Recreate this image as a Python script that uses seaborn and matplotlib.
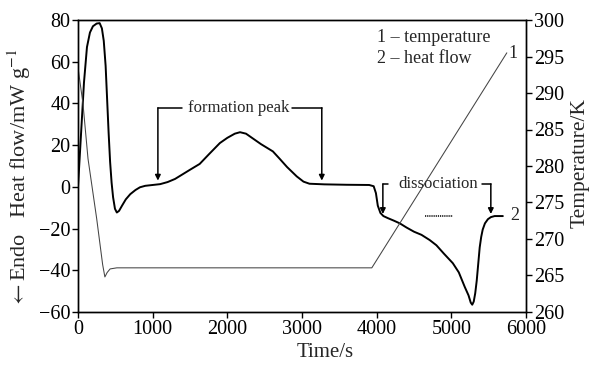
import numpy as np
import pandas as pd
import matplotlib
matplotlib.use("Agg")
import matplotlib.pyplot as plt
import seaborn as sns

# ---- data ----
hf_time = [0, 40, 80, 120, 160, 200, 250, 290, 320, 345, 370, 390, 410, 430, 450, 470,
           495, 520, 550, 590, 640, 700, 770, 830, 900, 1000, 1100, 1200, 1300, 1400,
           1500, 1630, 1750, 1900, 2000, 2100, 2170, 2250, 2350, 2450, 2610, 2700, 2800,
           2930, 3020, 3100, 3300, 3600, 3900, 3960, 3990, 4015, 4050, 4090, 4150, 4230,
           4310, 4400, 4500, 4600, 4710, 4800, 4900, 5020, 5100, 5180, 5230, 5260, 5280,
           5300, 5320, 5340, 5360, 5380, 5400, 5420, 5450, 5490, 5530, 5580, 5690]
hf_value = [0, 25, 50, 67, 74, 77, 78.3, 78.5, 76, 70, 58, 42, 26, 12, 2, -5,
            -10.5, -12.3, -11.5, -9, -6, -3.5, -1.5, -0.2, 0.5, 0.9, 1.3, 2.3, 3.8, 6,
            8.2, 11, 15.5, 21, 23.5, 25.5, 26.2, 25.5, 23, 20.5, 17, 13.5, 9.5,
            5, 2.5, 1.5, 1.2, 1.0, 0.9, 0.3, -3, -9, -12.5, -14, -15, -16.2,
            -17.5, -19.5, -21.5, -23, -25.5, -28, -32, -36.6, -41, -48, -52, -55.5, -56.5,
            -55, -51, -45, -37, -29, -24, -20.5, -17.5, -15.5, -14.5, -14, -14]

temp_time = [0, 67, 134, 250, 330, 360, 390, 430, 520, 3935, 5743]
temp_value = [293.5, 288.5, 281, 272.8, 266.5, 264.8, 265.4, 265.9, 266.05, 266.05, 295.5]

x_ticks = [0, 1000, 2000, 3000, 4000, 5000, 6000]
hf_ticks = [-60, -40, -20, 0, 20, 40, 60, 80]
temp_ticks = [260, 265, 270, 275, 280, 285, 290, 295, 300]

# annotation anchors (data coordinates)
form_left = (1070, 1390)     # arrow x, end of horizontal
form_right = (3265, 2865)
form_text = (2155, 37.9)
form_top, form_tip = 37.9, 3.0
diss_left = (4083, 4150)
diss_right = (5529, 5410)
diss_text = (4820, 1.4)
diss_top, diss_tip = 1.4, -13.0
dotted_x = [4645, 5020]
dotted_y = [-14, -14]

sns.set_style("ticks")
plt.rcParams['font.family'] = ['Liberation Serif', 'DejaVu Serif']
plt.rcParams['mathtext.fontset'] = 'stix'

fig = plt.figure(figsize=(5.89, 3.66), dpi=100)
ax = fig.add_axes([78/589, 1-312/366, (526-78)/589, (312-20)/366])

hf = pd.DataFrame({"t": hf_time, "v": hf_value})
tp = pd.DataFrame({"t": temp_time, "T": temp_value})

sns.lineplot(data=hf, x="t", y="v", ax=ax, color="black", lw=1.4, sort=False, estimator=None)
ax2 = ax.twinx()
sns.lineplot(data=tp, x="t", y="T", ax=ax2, color="#444444", lw=0.75, sort=False, estimator=None)

ax.set_xlim(0, 6000)
ax.set_ylim(-60, 80)
ax2.set_ylim(260, 300)
ax.set_xticks(x_ticks)
ax.set_yticks(hf_ticks)
ax2.set_yticks(temp_ticks)

for a in (ax, ax2):
    for s in a.spines.values():
        s.set_visible(True)
        s.set_linewidth(1.0)
        s.set_color("black")
    a.tick_params(direction="out", length=4, width=1.0, labelsize=14.5, colors="black", pad=1.5)

ax.set_xlabel("Time/s", fontsize=15)
ax.xaxis.set_label_coords(0.551, -0.105)
ax.set_ylabel(r"$\leftarrow$Endo   Heat flow/mW g$^{-1}$", fontsize=16)
ax.yaxis.set_label_coords(-0.1, 0.457)
ax2.set_ylabel("Temperature/K", fontsize=15.5)
ax2.yaxis.set_label_coords(1.1, 0.51)

# legend-like texts
ax.text(4000, 71.4, "1 – temperature", fontsize=13, va="center", ha="left")
ax.text(4000, 61.4, "2 – heat flow", fontsize=13, va="center", ha="left")
ax.text(5770, 64.0, "1", fontsize=13, va="center", ha="left")
ax.text(5790, -13.6, "2", fontsize=13, va="center", ha="left")

arrow_kw = dict(arrowstyle="-|>", lw=1.1, color="black", mutation_scale=8, shrinkA=0, shrinkB=0)

# formation peak bracket
ax.text(*form_text, "formation peak", fontsize=12, ha="center", va="center")
ax.plot([form_left[0], form_left[1]], [form_top, form_top], color="black", lw=1.1)
ax.plot([form_right[1], form_right[0]], [form_top, form_top], color="black", lw=1.1)
ax.annotate("", xy=(form_left[0], form_tip), xytext=(form_left[0], form_top), arrowprops=arrow_kw)
ax.annotate("", xy=(form_right[0], form_tip), xytext=(form_right[0], form_top), arrowprops=arrow_kw)

# dissociation bracket
ax.text(*diss_text, "dissociation", fontsize=12, ha="center", va="center")
ax.plot([diss_left[0], diss_left[1]], [diss_top, diss_top], color="black", lw=1.1)
ax.plot([diss_right[1], diss_right[0]], [diss_top, diss_top], color="black", lw=1.1)
ax.annotate("", xy=(diss_left[0], diss_tip), xytext=(diss_left[0], diss_top), arrowprops=arrow_kw)
ax.annotate("", xy=(diss_right[0], diss_tip), xytext=(diss_right[0], diss_top), arrowprops=arrow_kw)

ax.plot(dotted_x, dotted_y, color="black", lw=1.1, ls=(0, (0.8, 0.6)))

fig.savefig("out.png", dpi=100)
